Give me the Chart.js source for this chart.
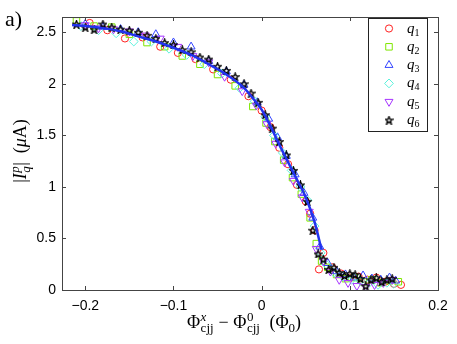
<!DOCTYPE html>
<html>
<head>
<meta charset="utf-8">
<script src="https://cdn.jsdelivr.net/npm/chart.js@4.4.0/dist/chart.umd.min.js"></script>
<style>
  html, body { margin: 0; padding: 0; background: #fff; }
</style>
</head>
<body>
<canvas id="chart" width="457" height="344"></canvas>
<script>
// Data
const q1X = [-0.195, -0.175, -0.155, -0.135, -0.115, -0.095, -0.075, -0.055, -0.035, -0.015, 0.0, 0.01, 0.02, 0.03, 0.04, 0.05, 0.055, 0.06, 0.065, 0.07, 0.08, 0.09, 0.1, 0.11, 0.12, 0.13, 0.14, 0.15, 0.158];
const q1Y = [2.59, 2.52, 2.44, 2.45, 2.36, 2.30, 2.24, 2.14, 2.04, 1.88, 1.74, 1.58, 1.38, 1.22, 1.02, 0.86, 0.74, 0.58, 0.20, 0.36, 0.22, 0.16, 0.12, 0.13, 0.10, 0.12, 0.08, 0.06, 0.05];

const q2X = [-0.21, -0.19, -0.17, -0.15, -0.13, -0.11, -0.09, -0.07, -0.05, -0.03, -0.01, 0.005, 0.015, 0.025, 0.035, 0.045, 0.055, 0.062, 0.068, 0.075, 0.085, 0.095, 0.105, 0.115, 0.125, 0.135, 0.145, 0.155];
const q2Y = [2.61, 2.56, 2.55, 2.48, 2.40, 2.36, 2.27, 2.19, 2.09, 1.98, 1.78, 1.62, 1.44, 1.26, 1.09, 0.93, 0.70, 0.45, 0.28, 0.22, 0.15, 0.11, 0.12, 0.08, 0.10, 0.07, 0.09, 0.08];

const q3X = [-0.2, -0.18, -0.16, -0.14, -0.12, -0.1, -0.08, -0.06, -0.04, -0.02, -0.005, 0.008, 0.018, 0.028, 0.038, 0.048, 0.058, 0.066, 0.075, 0.085, 0.095, 0.105, 0.115, 0.125, 0.135, 0.145, 0.152];
const q3Y = [2.58, 2.55, 2.53, 2.50, 2.48, 2.40, 2.36, 2.22, 2.12, 1.99, 1.82, 1.66, 1.48, 1.30, 1.12, 0.94, 0.70, 0.42, 0.26, 0.18, 0.15, 0.12, 0.14, 0.11, 0.10, 0.12, 0.09];

const q4X = [-0.205, -0.185, -0.165, -0.145, -0.125, -0.105, -0.085, -0.065, -0.045, -0.025, -0.008, 0.004, 0.014, 0.024, 0.034, 0.044, 0.052, 0.06, 0.067, 0.073, 0.082, 0.092, 0.102, 0.112, 0.122, 0.132, 0.142, 0.15];
const q4Y = [2.56, 2.52, 2.49, 2.41, 2.41, 2.34, 2.28, 2.19, 2.10, 1.96, 1.83, 1.68, 1.50, 1.33, 1.16, 1.00, 0.87, 0.62, 0.36, 0.25, 0.17, 0.13, 0.10, 0.09, 0.07, 0.05, 0.07, 0.06];

const q5X = [-0.2, -0.185, -0.168, -0.15, -0.132, -0.115, -0.095, -0.078, -0.06, -0.042, -0.022, -0.006, 0.006, 0.016, 0.026, 0.036, 0.046, 0.054, 0.062, 0.07, 0.078, 0.088, 0.098, 0.108, 0.118, 0.128, 0.138, 0.148];
const q5Y = [2.57, 2.54, 2.53, 2.51, 2.47, 2.44, 2.36, 2.27, 2.21, 2.07, 1.93, 1.79, 1.61, 1.42, 1.24, 1.06, 0.90, 0.76, 0.40, 0.28, 0.18, 0.10, 0.07, 0.04, 0.03, 0.05, 0.07, 0.10];

const q6X = [-0.21, -0.2, -0.19, -0.18, -0.17, -0.16, -0.15, -0.14, -0.13, -0.12, -0.11, -0.1, -0.09, -0.08, -0.07, -0.06, -0.05, -0.04, -0.03, -0.02, -0.012, -0.004, 0.004, 0.012, 0.02, 0.028, 0.036, 0.044, 0.052, 0.058, 0.064, 0.07, 0.076, 0.082, 0.088, 0.094, 0.1, 0.106, 0.112, 0.118, 0.124, 0.13, 0.136, 0.142, 0.148];
const q6Y = [2.58, 2.55, 2.53, 2.58, 2.55, 2.53, 2.52, 2.50, 2.47, 2.44, 2.40, 2.38, 2.33, 2.31, 2.26, 2.24, 2.17, 2.13, 2.07, 2.00, 1.91, 1.82, 1.70, 1.57, 1.44, 1.31, 1.16, 1.02, 0.86, 0.58, 0.35, 0.30, 0.20, 0.22, 0.17, 0.14, 0.16, 0.15, 0.11, 0.04, 0.10, 0.12, 0.08, 0.10, 0.11];

// fitted curve (blue solid line)
const fitX = [-0.215, -0.2, -0.18, -0.16, -0.14, -0.12, -0.1, -0.08, -0.06, -0.04, -0.02, -0.01, 0, 0.01, 0.02, 0.03, 0.04, 0.05, 0.06, 0.068];
const fitY = [2.57, 2.56, 2.54, 2.51, 2.46, 2.41, 2.35, 2.28, 2.19, 2.09, 1.96, 1.86, 1.75, 1.59, 1.41, 1.24, 1.07, 0.90, 0.66, 0.39];

const xTicks = [-0.2, -0.1, 0, 0.1, 0.2];
const yTicks = [0, 0.5, 1, 1.5, 2, 2.5];
const seriesNames = ["1", "2", "3", "4", "5", "6"];

const SERIF = '"Liberation Serif", "DejaVu Serif", serif';
const SANS = '"Liberation Sans", Arial, sans-serif';

// matlab-like pentagram marker
function makeStar(size) {
  const c = document.createElement("canvas");
  c.width = c.height = size;
  const g = c.getContext("2d");
  const r = size / 2 - 0.6, ri = r * 0.42;
  g.beginPath();
  for (let i = 0; i < 10; i++) {
    const a = -Math.PI / 2 + i * Math.PI / 5;
    const rr = i % 2 ? ri : r;
    g.lineTo(size / 2 + rr * Math.cos(a), size / 2 + 0.5 + rr * Math.sin(a));
  }
  g.closePath();
  g.strokeStyle = "#000";
  g.lineWidth = 1.35;
  g.stroke();
  return c;
}
const starImg = makeStar(9);

const toPts = (xs, ys) => xs.map((x, i) => ({ x: x, y: ys[i] }));

const markerStyles = [
  { color: "#ff2020", style: "circle", radius: 3.6, rotation: 0 },
  { color: "#7fe600", style: "rect", radius: 4.6, rotation: 0 },
  { color: "#3344ff", style: "triangle", radius: 4.6, rotation: 0 },
  { color: "#5cf2dc", style: "rectRot", radius: 4.4, rotation: 0 },
  { color: "#a633ff", style: "triangle", radius: 4.6, rotation: 180 },
  { color: "#000000", style: starImg, radius: 4.5, rotation: 0 },
];

const seriesX = [q1X, q2X, q3X, q4X, q5X, q6X];
const seriesY = [q1Y, q2Y, q3Y, q4Y, q5Y, q6Y];

const datasets = seriesX.map((xs, i) => ({
  label: "q" + seriesNames[i],
  data: toPts(xs, seriesY[i]),
  showLine: false,
  pointStyle: markerStyles[i].style,
  pointRadius: markerStyles[i].radius,
  pointRotation: markerStyles[i].rotation,
  borderColor: markerStyles[i].color,
  backgroundColor: "rgba(0,0,0,0)",
  borderWidth: 1,
  order: 7 - i,
}));

datasets.push({
  label: "fit",
  data: toPts(fitX, fitY),
  showLine: true,
  pointRadius: 0,
  borderColor: "#2233ee",
  borderWidth: 2.5,
  tension: 0.4,
  cubicInterpolationMode: "monotone",
  fill: false,
  order: 0,
});

// draws a row of text pieces with super/subscripts
function mathWidth(ctx, parts) {
  let w = 0;
  parts.forEach(p => {
    if (p.sup !== undefined) {
      ctx.font = p.supF; const a = ctx.measureText(p.sup).width;
      ctx.font = p.subF; const b = ctx.measureText(p.sub).width;
      w += Math.max(a, b) + 1;
    } else {
      ctx.font = p.f; w += ctx.measureText(p.t).width;
    }
  });
  return w;
}
function drawMath(ctx, parts, x, y) {
  ctx.textAlign = "left";
  ctx.textBaseline = "alphabetic";
  parts.forEach(p => {
    if (p.sup !== undefined) {
      ctx.font = p.supF; ctx.fillText(p.sup, x + 0.5, y - 7); const a = ctx.measureText(p.sup).width;
      ctx.font = p.subF; ctx.fillText(p.sub, x + 0.5, y + 4); const b = ctx.measureText(p.sub).width;
      x += Math.max(a, b) + 1;
    } else {
      ctx.font = p.f; ctx.fillText(p.t, x, y + (p.dy || 0));
      x += ctx.measureText(p.t).width;
    }
  });
}

const decorPlugin = {
  id: "decor",
  afterDraw(chart) {
    const ctx = chart.ctx;
    const a = chart.chartArea;
    const xs = chart.scales.x, ys = chart.scales.y;
    ctx.save();
    // frame
    ctx.strokeStyle = "#444";
    ctx.lineWidth = 1;
    ctx.strokeRect(Math.round(a.left) + 0.5, Math.round(a.top) + 0.5, Math.round(a.right - a.left), Math.round(a.bottom - a.top));
    // inward ticks on all four sides
    ctx.beginPath();
    xTicks.forEach(v => {
      const px = Math.round(xs.getPixelForValue(v)) + 0.5;
      ctx.moveTo(px, a.bottom); ctx.lineTo(px, a.bottom - 4);
      ctx.moveTo(px, a.top); ctx.lineTo(px, a.top + 4);
    });
    yTicks.forEach(v => {
      const py = Math.round(ys.getPixelForValue(v)) + 0.5;
      ctx.moveTo(a.left, py); ctx.lineTo(a.left + 4, py);
      ctx.moveTo(a.right, py); ctx.lineTo(a.right - 4, py);
    });
    ctx.stroke();

    ctx.fillStyle = "#000";
    const big = "18px " + SERIF, bigI = "italic 18px " + SERIF;
    const sm = "13px " + SERIF, smI = "italic 13px " + SERIF;

    // x axis title
    const xParts = [
      { t: "Φ", f: big },
      { sup: "x", supF: smI, sub: "cjj", subF: sm },
      { t: " − ", f: big },
      { t: "Φ", f: big },
      { sup: "0", supF: sm, sub: "cjj", subF: sm },
      { t: "  (Φ", f: big },
      { t: "0", f: sm, dy: 4 },
      { t: ")", f: big },
    ];
    const xw = mathWidth(ctx, xParts);
    drawMath(ctx, xParts, 244 - xw / 2, 328);

    // y axis title (rotated)
    const yParts = [
      { t: "|", f: big },
      { t: "I", f: bigI },
      { sup: "p", supF: smI, sub: "q", subF: smI },
      { t: "|", f: big },
      { t: "  (", f: big },
      { t: "μ", f: bigI },
      { t: "A)", f: big },
    ];
    const yw = mathWidth(ctx, yParts);
    ctx.save();
    ctx.translate(26, 151);
    ctx.rotate(-Math.PI / 2);
    drawMath(ctx, yParts, -yw / 2, 0);
    ctx.restore();

    // panel label
    ctx.font = "22px " + SERIF;
    ctx.fillText("a)", 5, 26);

    // legend box
    const lx = 368, ly = 18, lw = 59, lh = 113;
    ctx.fillStyle = "#fff";
    ctx.fillRect(lx, ly, lw, lh);
    ctx.strokeStyle = "#222";
    ctx.strokeRect(lx + 0.5, ly + 0.5, lw, lh);
    markerStyles.forEach((m, i) => {
      const cy = 28.5 + i * 18.3;
      ctx.strokeStyle = m.color;
      ctx.fillStyle = "rgba(0,0,0,0)";
      ctx.lineWidth = 1;
      Chart.helpers.drawPoint(ctx, { pointStyle: m.style, radius: m.radius, rotation: m.rotation, borderWidth: 1 }, 389, cy);
      ctx.fillStyle = "#000";
      drawMath(ctx, [
        { t: "q", f: "italic 15px " + SERIF },
        { t: seriesNames[i], f: "10px " + SERIF, dy: 3 },
      ], 407, cy + 4);
    });
    ctx.restore();
  },
};

new Chart(document.getElementById("chart"), {
  type: "scatter",
  data: { datasets: datasets },
  options: {
    responsive: false,
    animation: false,
    devicePixelRatio: 1,
    layout: { padding: { left: 0, right: 19, top: 17, bottom: 0 } },
    plugins: { legend: { display: false }, tooltip: { enabled: false } },
    scales: {
      x: {
        type: "linear",
        min: -0.2264,
        max: 0.2,
        afterBuildTicks: s => { s.ticks = xTicks.map(v => ({ value: v })); },
        afterFit: s => { s.height = 54; },
        grid: { display: false, drawTicks: false },
        border: { display: false },
        ticks: {
          padding: 8,
          color: "#000",
          font: { family: SANS, size: 14 },
          callback: v => (v < 0 ? "−" + Math.abs(v) : String(v)),
        },
      },
      y: {
        type: "linear",
        min: 0,
        max: 2.648,
        afterBuildTicks: s => { s.ticks = yTicks.map(v => ({ value: v })); },
        afterFit: s => { s.width = 62; },
        grid: { display: false, drawTicks: false },
        border: { display: false },
        ticks: {
          padding: 6,
          color: "#000",
          font: { family: SANS, size: 14 },
          callback: v => String(v),
        },
      },
    },
  },
  plugins: [decorPlugin],
});
</script>
</body>
</html>
